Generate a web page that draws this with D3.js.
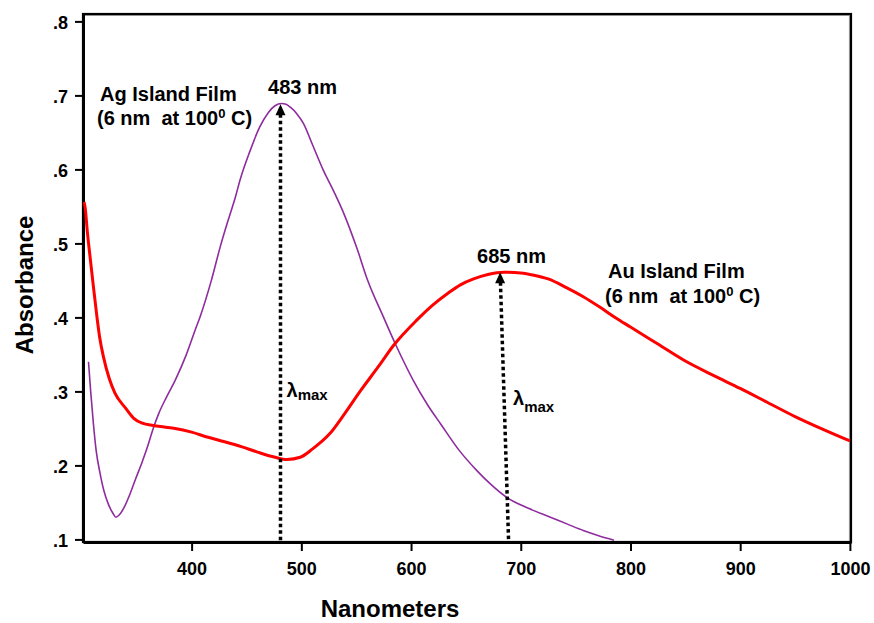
<!DOCTYPE html>
<html><head><meta charset="utf-8">
<script src="https://cdn.jsdelivr.net/npm/d3@7"></script>
<style>
body{margin:0;background:#fff}
text{font-family:"Liberation Sans",Arial,Helvetica,sans-serif;fill:#000}
</style>
</head><body>
<svg id="chart" width="874" height="623"></svg>
<script>
// ---- data ----
const agNm  = [306,308,310.5,313,316.6,320,324,328,331,334,339.4,344,348.5,355,360.6,365,370,377,385,395,403,408,418,426,433,440,444,453,462,470,476,482,486,490,496,502,510,520,530,538,551,560,575,587,602,615,627,643,660,673,687,707,727,742,757,771,785];
const agAbs = [0.340,0.300,0.256,0.220,0.189,0.166,0.148,0.136,0.130,0.133,0.146,0.162,0.180,0.205,0.229,0.250,0.270,0.292,0.315,0.349,0.382,0.402,0.450,0.495,0.530,0.563,0.585,0.624,0.657,0.677,0.686,0.689,0.688,0.684,0.675,0.662,0.634,0.599,0.569,0.543,0.492,0.452,0.400,0.360,0.315,0.282,0.256,0.222,0.193,0.174,0.157,0.142,0.130,0.121,0.112,0.105,0.099];

const auNm  = [302,303,305,307.5,310,313.6,316,319.6,325,330,340,347,355,365,375,385,400,415,430,446,460,476,487,499,510,526,540,554,570,584,605,620,633,645,657,670,685,700,712,725,742,757,772,786,800,825,850,875,900,925,950,975,1000];
const auAbs = [0.556,0.548,0.515,0.481,0.448,0.402,0.375,0.347,0.317,0.298,0.277,0.264,0.257,0.254,0.252,0.250,0.245,0.238,0.232,0.225,0.218,0.211,0.208,0.211,0.222,0.243,0.271,0.301,0.333,0.362,0.396,0.417,0.432,0.444,0.452,0.458,0.461,0.460,0.457,0.452,0.440,0.428,0.414,0.400,0.387,0.364,0.341,0.322,0.304,0.285,0.266,0.249,0.233];

const xTicks = [400,500,600,700,800,900,1000];
const xTickLabels = ["400","500","600","700","800","900","1000"];
const yTicks = [0.1,0.2,0.3,0.4,0.5,0.6,0.7,0.8];
const yTickLabels = [".1",".2",".3",".4",".5",".6",".7",".8"];

// arrows: [nm at tip, nm at foot, absorbance at tip]
const arrowTipNm  = [481, 681.2];
const arrowFootNm = [481, 688.9];
const arrowTipAbs = [0.688, 0.461];
const peakLabels  = ["483 nm", "685 nm"];

// ---- layout ----
const svg = d3.select("#chart");
const L = 83, R = 851, T = 14, B = 542;
const x = d3.scaleLinear().domain([301, 1001]).range([L, R]);
const y = d3.scaleLinear().domain([0.0965, 0.81]).range([B, T]);

svg.append("defs").append("clipPath").attr("id","plotclip")
  .append("rect").attr("x",L).attr("y",T).attr("width",R-L).attr("height",B-T);

// frame (top/right with light inner shade)
svg.append("path").attr("d",`M${L},${T+1.5}H${R-1.5}V${B}`)
  .attr("fill","none").attr("stroke","#a0a0a0").attr("stroke-width",1.2);
svg.append("rect").attr("x",L).attr("y",T).attr("width",R-L).attr("height",B-T)
  .attr("fill","none").attr("stroke","#000").attr("stroke-width",2.2);

// axes
const xAxis = d3.axisBottom(x).tickValues(xTicks).tickSize(9).tickSizeOuter(0)
  .tickFormat((d,i)=>xTickLabels[i]);
const gx = svg.append("g").attr("transform",`translate(0,${B})`).call(xAxis);
gx.select(".domain").attr("stroke","#000").attr("stroke-width",3);
gx.selectAll(".tick line").attr("stroke","#000").attr("stroke-width",2);
gx.selectAll(".tick text").attr("y",33).attr("dy",0)
  .style("font-size","18px").style("font-weight","bold")
  .style("font-family",'"Liberation Sans",Arial,sans-serif').attr("fill","#000");

const yAxis = d3.axisLeft(y).tickValues(yTicks).tickSize(8).tickSizeOuter(0)
  .tickFormat((d,i)=>yTickLabels[i]);
const gy = svg.append("g").attr("transform",`translate(${L},0)`).call(yAxis);
gy.select(".domain").attr("stroke","#000").attr("stroke-width",3);
gy.selectAll(".tick line").attr("stroke","#000").attr("stroke-width",2);
gy.selectAll(".tick text").attr("x",-15).attr("dy","0.42em")
  .style("font-size","18px").style("font-weight","bold")
  .style("font-family",'"Liberation Sans",Arial,sans-serif').attr("fill","#000");

// curves
const line = d3.line().x(d=>x(d[0])).y(d=>y(d[1])).curve(d3.curveMonotoneX);
const plot = svg.append("g").attr("clip-path","url(#plotclip)");
plot.append("path").datum(agNm.map((n,i)=>[n,agAbs[i]]))
  .attr("d",line).attr("fill","none").attr("stroke","#8e2c9e").attr("stroke-width",1.6);
plot.append("path").datum(auNm.map((n,i)=>[n,auAbs[i]]))
  .attr("d",line).attr("fill","none").attr("stroke","#ff0000").attr("stroke-width",3);

// arrows
arrowTipNm.forEach((tn,i)=>{
  const xt = x(tn), yt = y(arrowTipAbs[i]), xf = x(arrowFootNm[i]);
  const head = 10;
  svg.append("line").attr("x1",xt + (xf-xt)*head/(B-yt)).attr("y1",yt+head)
    .attr("x2",xf).attr("y2",B-1)
    .attr("stroke","#000").attr("stroke-width",3.5).attr("stroke-dasharray","3.5,3");
  svg.append("path").attr("d",`M${xt},${yt}L${xt-5},${yt+11}L${xt+5},${yt+11}Z`).attr("fill","#000");
});

// peak labels
svg.append("text").attr("x",302.5).attr("y",94).attr("text-anchor","middle")
  .style("font-size","20px").style("font-weight","bold").text(peakLabels[0]);
svg.append("text").attr("x",511.5).attr("y",263).attr("text-anchor","middle")
  .style("font-size","20px").style("font-weight","bold").text(peakLabels[1]);

// film labels
function filmLabel(x0, y0, x1, y1, name){
  svg.append("text").attr("x",x0).attr("y",y0)
    .style("font-size","20px").style("font-weight","bold").text(name);
  const t = svg.append("text").attr("x",x1).attr("y",y1)
    .style("font-size","20px").style("font-weight","bold").style("white-space","pre");
  t.append("tspan").text("(6 nm  at 100");
  t.append("tspan").attr("dy",-7).style("font-size","13px").text("0");
  t.append("tspan").attr("dy",7).text(" C)");
}
filmLabel(100,101,97,125,"Ag Island Film");
filmLabel(608,278,605,302.5,"Au Island Film");

// lambda max labels
function lam(x0, y0, dsub){
  const t = svg.append("text").attr("x",x0).attr("y",y0).style("font-weight","bold");
  t.append("tspan").style("font-size","20px").text("λ");
  t.append("tspan").attr("dy",dsub).style("font-size","15px").text("max");
}
lam(286.5,397,2.5);
lam(513,404.5,7);

// axis titles
svg.append("text").attr("x",390).attr("y",617).attr("text-anchor","middle")
  .style("font-size","24px").style("font-weight","bold").text("Nanometers");
svg.append("text").attr("transform","translate(33,285) rotate(-90)").attr("text-anchor","middle")
  .style("font-size","24px").style("font-weight","bold").text("Absorbance");
</script>
</body></html>
